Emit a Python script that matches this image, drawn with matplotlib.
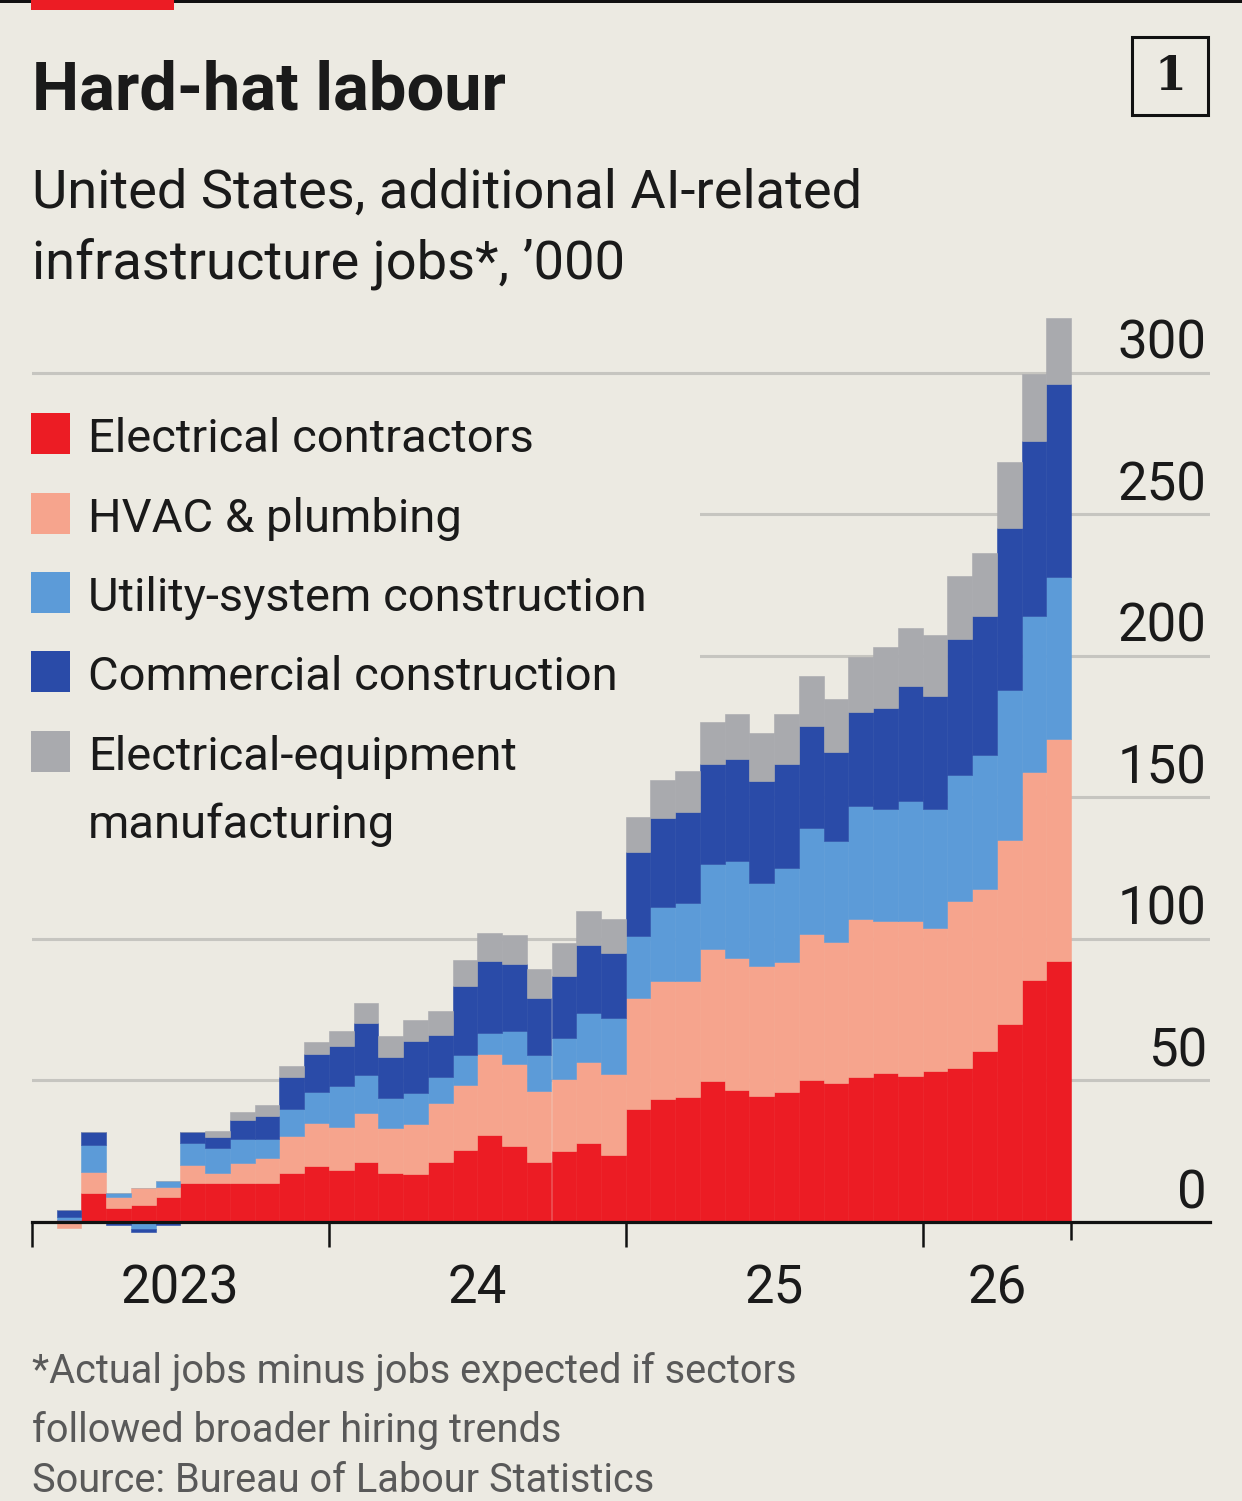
import numpy as np
import matplotlib
matplotlib.use("Agg")
import matplotlib.pyplot as plt
from matplotlib.patches import Rectangle
from matplotlib import transforms

# --Data-- ('000 jobs, monthly Jan 2023 - Jun 2026)
red = [0, 0.8, 10.1, 5.1, 5.9, 9.0, 13.9, 13.9, 13.9, 13.9, 17.2, 19.8,
       18.4, 21.3, 17.4, 17.0, 21.2, 25.6, 30.6, 26.7, 21.1, 25.0, 27.9, 23.8,
       40.0, 43.3, 44.0, 49.8, 46.7, 44.4, 46.0, 50.0, 49.0, 51.4, 52.8, 51.7,
       53.3, 54.4, 60.4, 69.9, 85.4, 92.2]
hvac = [0, -2.2, 7.7, 3.9, 6.2, 3.5, 6.2, 3.3, 7.1, 8.6, 13.2, 15.1,
        15.3, 17.3, 15.7, 17.5, 20.8, 22.7, 28.9, 29.1, 25.3, 25.6, 28.6, 28.5,
        39.0, 42.0, 41.3, 46.5, 46.4, 46.0, 45.7, 51.8, 49.8, 55.5, 53.7, 54.5,
        50.7, 58.9, 57.2, 65.1, 73.5, 78.4]
utility = [0, 1.0, 9.4, 1.3, -2.4, 2.0, 7.7, 8.8, 8.2, 6.7, 9.4, 11.2,
           14.4, 13.3, 10.6, 11.0, 9.1, 10.8, 7.3, 11.6, 12.7, 14.4, 17.3, 19.8,
           22.2, 26.1, 27.3, 30.2, 34.4, 29.4, 33.5, 37.3, 35.8, 39.9, 39.4, 42.6,
           42.0, 44.5, 47.2, 52.9, 55.1, 57.2]
commercial = [0, 2.5, 4.7, -1.0, -1.2, -1.0, 4.1, 4.1, 6.8, 8.3, 11.6, 13.3,
              14.1, 18.5, 14.5, 18.5, 14.9, 24.2, 25.5, 23.8, 20.0, 21.8, 24.0, 23.0,
              29.4, 31.4, 32.2, 35.2, 36.0, 36.1, 36.5, 36.1, 31.6, 33.4, 35.7, 40.6,
              39.8, 48.3, 49.2, 57.2, 62.0, 68.2]
equipment = [0, 0, 0, 0, 0, 0, 0, 2.2, 2.8, 3.8, 3.7, 4.3,
             5.4, 7.1, 7.5, 7.5, 8.7, 9.2, 9.8, 10.1, 10.4, 11.8, 12.0, 12.1,
             12.6, 13.5, 14.6, 14.9, 15.8, 17.0, 17.6, 17.6, 18.5, 19.4, 21.4, 20.6,
             21.4, 22.1, 22.2, 23.3, 23.4, 23.3]

labels = ["Electrical contractors", "HVAC & plumbing", "Utility-system construction",
          "Commercial construction", "Electrical-equipment\nmanufacturing"]
year_labels = ["2023", "24", "25", "26"]
year_starts = [0, 12, 24, 36]
y_ticks = [0, 50, 100, 150, 200, 250, 300]

# --Style--
BG = "#ECEAE2"
GRID = "#C6C5C0"
INK = "#1A1A1A"
colors = ["#EC1C24", "#F6A48D", "#5C9BD8", "#2A4BA8", "#A9AAAE"]
W, H = 1242, 1501
FONT = "Roboto"

plt.rcParams["font.family"] = [FONT, "DejaVu Sans"]

fig = plt.figure(figsize=(W / 100, H / 100), dpi=100)
fig.patch.set_facecolor(BG)


def fx(x):
    return x / W


def fy(y):
    return 1 - y / H


def fit(t, width):
    r = fig.canvas.get_renderer()
    w = t.get_window_extent(renderer=r).width
    t.set_fontsize(t.get_fontsize() * width / w)
    return t.get_fontsize()


bar_px = (1071 - 32) / 42.0
ax = fig.add_axes([fx(32), fy(1239), 1178 / W, (1239 - 302) / H])
ax.set_facecolor("none")
ax.set_xlim(-0.5, -0.5 + 1178 / bar_px)
ax.set_ylim(-6, 325)

x = np.arange(len(red))
pos = np.zeros(len(x))
neg = np.zeros(len(x))
for vals, col in zip([red, hvac, utility, commercial, equipment], colors):
    v = np.array(vals, dtype=float)
    bottom = np.where(v >= 0, pos, neg)
    ax.bar(x, v, bottom=bottom, width=1.0, color=col, edgecolor=col,
           linewidth=0.4, zorder=3)
    pos += np.clip(v, 0, None)
    neg += np.clip(v, None, 0)

for g in y_ticks[1:]:
    ax.axhline(g, color=GRID, lw=2.2, zorder=1)

# legend area hides the gridlines behind it
ax.add_patch(Rectangle((-0.5, 124), 27.0, 170, facecolor=BG, edgecolor="none", zorder=2))

for s in ["top", "left", "right"]:
    ax.spines[s].set_visible(False)
ax.spines["bottom"].set_position(("data", 0))
ax.spines["bottom"].set_linewidth(2.3)
ax.spines["bottom"].set_color("#111111")
ax.spines["bottom"].set_zorder(4)
ax.set_yticks([])
ax.set_xticks([s - 0.5 for s in year_starts])
ax.set_xticks([len(x) - 0.5], minor=True)
ax.tick_params(axis="x", which="major", length=18, width=1.8, color="#111111",
               direction="out", labelbottom=False)
ax.tick_params(axis="x", which="minor", length=13, width=1.8, color="#111111",
               direction="out", labelbottom=False)

# year labels centred between ticks
bounds = [s - 0.5 for s in year_starts] + [len(x) - 0.5]
tr = transforms.blended_transform_factory(ax.transData, fig.transFigure)
xt = []
for i, lab in enumerate(year_labels):
    c = (bounds[i] + bounds[i + 1]) / 2
    xt.append(ax.text(c, fy(1303), lab, transform=tr, ha="center", va="baseline",
                      fontsize=38, color=INK))

# y labels sit above their gridlines on the right
ytr = transforms.offset_copy(transforms.blended_transform_factory(ax.transAxes, ax.transData),
                             fig=fig, x=-3, y=14, units="dots")
yt = []
for v in y_ticks:
    yt.append(ax.text(1.0, v, str(v), transform=ytr, ha="right", va="baseline",
                      fontsize=38, color=INK))
size = fit(yt[-1], 89)
for t in yt + xt:
    t.set_fontsize(size)

# --Legend--
leg_base = [452, 532, 611, 690, 770]
leg_texts = []
for b, lab, col in zip(leg_base, labels, colors):
    fig.add_artist(Rectangle((fx(31), fy(b + 2)), 39 / W, 41 / H, facecolor=col,
                             edgecolor="none", transform=fig.transFigure))
    lines = lab.split("\n")
    leg_texts.append(fig.text(fx(88), fy(b), lines[0], ha="left", va="baseline",
                              fontsize=34, color=INK))
    if len(lines) > 1:
        leg_texts.append(fig.text(fx(88), fy(b + 68), lines[1], ha="left", va="baseline",
                                  fontsize=34, color=INK))
size = fit(leg_texts[0], 447)
for t in leg_texts:
    t.set_fontsize(size)

# --Header--
fig.add_artist(Rectangle((0, fy(3)), 1, 3 / H, facecolor="#111111", edgecolor="none",
                         transform=fig.transFigure))
fig.add_artist(Rectangle((fx(31), fy(10)), 143 / W, 10 / H, facecolor=colors[0],
                         edgecolor="none", transform=fig.transFigure))
title = fig.text(fx(32), fy(110), "Hard-hat labour", ha="left", va="baseline",
                 fontsize=49, fontweight="bold", color=INK)
fit(title, 473)
sub1 = fig.text(fx(32), fy(208), "United States, additional AI-related", ha="left",
                va="baseline", fontsize=39, color=INK)
size = fit(sub1, 830)
fig.text(fx(32), fy(278), "infrastructure jobs*, \u2019000", ha="left", va="baseline",
         fontsize=size, color=INK)

fig.add_artist(Rectangle((fx(1132), fy(115)), 76 / W, 78 / H, fill=False,
                         edgecolor="#111111", linewidth=2.2, transform=fig.transFigure))
fig.text(fx(1170), fy(77), "1", ha="center", va="center", fontsize=33,
         family="DejaVu Serif", fontweight="bold", color=INK)

# --Footnote--
GREY_TXT = "#595959"
foot1 = fig.text(fx(32), fy(1383), "*Actual jobs minus jobs expected if sectors",
                 ha="left", va="baseline", fontsize=29, color=GREY_TXT)
size = fit(foot1, 765)
fig.text(fx(32), fy(1442), "followed broader hiring trends", ha="left", va="baseline",
         fontsize=size, color=GREY_TXT)
fig.text(fx(32), fy(1492), "Source: Bureau of Labour Statistics", ha="left", va="baseline",
         fontsize=size, color=GREY_TXT)

fig.savefig("out.png", dpi=100, facecolor=BG)
